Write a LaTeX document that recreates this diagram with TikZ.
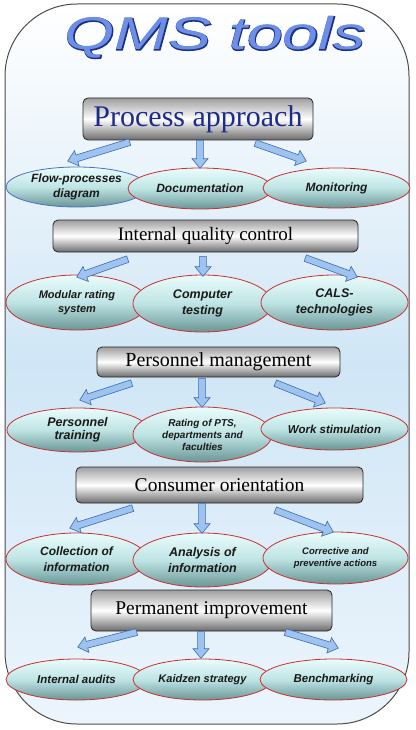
\documentclass[tikz,border=0pt]{standalone}
\usepackage{fontspec}
\setmainfont{Liberation Serif}
\newfontfamily\ellfont{Liberation Sans}
\newfontfamily\titlefont{Liberation Sans}
\newfontfamily\titlefontB[FakeBold=2.5]{Liberation Sans}
\usetikzlibrary{shapes.geometric,shapes.arrows,calc}
\definecolor{arrowfill}{HTML}{9DC3EE}
\definecolor{arrowline}{HTML}{3A6AB8}
\definecolor{elltop}{HTML}{EAFCFC}
\definecolor{ellmid}{HTML}{BFE4E4}
\definecolor{ellbot}{HTML}{6A9696}
\definecolor{ellred}{HTML}{C83030}
\definecolor{ellblue}{HTML}{4A70C8}
\definecolor{bgmid}{HTML}{D0E6F6}
\definecolor{bgbot}{HTML}{ECF5FC}
\definecolor{titlefill}{HTML}{6C8EE6}
\definecolor{titleline}{HTML}{1E2E80}
\definecolor{navy}{HTML}{1C2C8C}
\tikzset{
  qbox/.style={rectangle, rounded corners=5pt, draw=black!85, line width=0.8pt,
    top color=black!38, bottom color=black!58, middle color=white, inner sep=0pt},
  ell/.style={ellipse, draw=ellred, line width=0.8pt, top color=elltop,
    bottom color=ellbot, middle color=ellmid, inner sep=0pt, align=center,
    text=black!90, font=\ellfont\bfseries\itshape\fontsize{12}{14.5}\selectfont},
  barrow/.style={single arrow, draw=arrowline, fill=arrowfill, line width=0.6pt,
    inner sep=3pt, minimum width=16pt, single arrow head extend=4.5pt,
    single arrow tip angle=80},
}
\newcommand\blockarrow[2]{\path let \p1=(#1), \p2=(#2),
  \n1={atan2(\y2-\y1,\x2-\x1)}, \n2={veclen(\x2-\x1,\y2-\y1)} in
  node[barrow, minimum height=\n2, rotate=\n1, anchor=tail] at (\p1) {};}
\begin{document}
\begin{tikzpicture}[x=1pt,y=-1pt]
\useasboundingbox (0,0) rectangle (415,730);
% frame
\draw[draw=black!70, line width=1pt, rounded corners=72pt, top color=white,
  bottom color=bgbot, middle color=bgmid] (5,4) rectangle (409,724);
% title
\node[anchor=base, xscale=1.4, text=titleline, font=\titlefontB\itshape\fontsize{46}{50}\selectfont] (tB) at (215,50) {QMS tools};
\node[anchor=base, xscale=1.4, text=titlefill, font=\titlefont\itshape\fontsize{46}{50}\selectfont] (t) at (215,50) {QMS tools};
% boxes
\node[qbox, minimum width=230pt, minimum height=42pt, text=navy, font=\fontsize{30}{34}\selectfont] (b1) at (198,119) {Process approach};
\node[qbox, minimum width=305pt, minimum height=32pt, font=\fontsize{19}{22}\selectfont] (b2) at (205.5,236) {Internal quality control};
\node[qbox, minimum width=243pt, minimum height=30pt, font=\fontsize{20}{24}\selectfont] (b3) at (218.5,362) {Personnel management};
\node[qbox, minimum width=287pt, minimum height=36pt, font=\fontsize{19.5}{23}\selectfont] (b4) at (219.5,485) {Consumer orientation};
\node[qbox, minimum width=241pt, minimum height=41pt, font=\fontsize{19.5}{23}\selectfont] (b5) at (211.5,610.5) {Permanent improvement};
% ellipses row 1
\node[ell, draw=ellblue, minimum width=141pt, minimum height=40pt] (e11) at (76.5,187) {Flow-processes\\diagram};
\node[ell, minimum width=144pt, minimum height=41pt] (e12) at (200,188.5) {Documentation};
\node[ell, minimum width=147pt, minimum height=40pt] (e13) at (336.5,188) {Monitoring};
% row 2
\node[ell, minimum width=142pt, minimum height=55pt, font=\ellfont\bfseries\itshape\fontsize{11}{13.5}\selectfont] (e21) at (77,302.5) {Modular rating\\system};
\node[ell, minimum width=139pt, minimum height=57pt, font=\ellfont\bfseries\itshape\fontsize{12.5}{15.5}\selectfont] (e22) at (202.5,303.5) {Computer\\testing};
\node[ell, minimum width=147pt, minimum height=55pt, font=\ellfont\bfseries\itshape\fontsize{12.5}{15.5}\selectfont] (e23) at (334.5,302.5) {CALS-\\technologies};
% row 3
\node[ell, minimum width=141pt, minimum height=44pt, font=\ellfont\bfseries\itshape\fontsize{12.5}{13.5}\selectfont] (e31) at (77.5,430) {Personnel\\training};
\node[ell, minimum width=139pt, minimum height=55pt, font=\ellfont\bfseries\itshape\fontsize{10}{12}\selectfont] (e32) at (202.5,434.5) {Rating of PTS,\\departments and\\faculties};
\node[ell, minimum width=147pt, minimum height=42pt, font=\ellfont\bfseries\itshape\fontsize{11.5}{14}\selectfont] (e33) at (334.5,429) {Work stimulation};
% row 4
\node[ell, minimum width=141pt, minimum height=52pt, font=\ellfont\bfseries\itshape\fontsize{12}{16}\selectfont] (e41) at (76.5,559) {Collection of\\information};
\node[ell, minimum width=139pt, minimum height=54pt, font=\ellfont\bfseries\itshape\fontsize{12.5}{16}\selectfont] (e42) at (202.5,560) {Analysis of\\information};
\node[ell, minimum width=145pt, minimum height=52pt, font=\ellfont\bfseries\itshape\fontsize{9.5}{12}\selectfont] (e43) at (335.5,558) {Corrective and\\preventive actions};
% row 5
\node[ell, minimum width=141pt, minimum height=41pt, font=\ellfont\bfseries\itshape\fontsize{11.5}{14}\selectfont] (e51) at (76.5,679.5) {Internal audits};
\node[ell, minimum width=139pt, minimum height=41pt, font=\ellfont\bfseries\itshape\fontsize{11}{14}\selectfont] (e52) at (202.5,679.5) {Kaidzen strategy};
\node[ell, minimum width=147pt, minimum height=41pt, font=\ellfont\bfseries\itshape\fontsize{11.5}{14}\selectfont] (e53) at (333.5,679.5) {Benchmarking};
% arrow ends
\coordinate (a1t) at (130,142); \coordinate (a1h) at (68,161);
\coordinate (m1t) at (200,140); \coordinate (m1h) at (200,168);
\coordinate (r1t) at (255,143); \coordinate (r1h) at (306,161);
\coordinate (a2t) at (128,259); \coordinate (a2h) at (77,277);
\coordinate (m2t) at (203,256); \coordinate (m2h) at (203,276);
\coordinate (r2t) at (305,258); \coordinate (r2h) at (357,277);
\coordinate (a3t) at (132,383); \coordinate (a3h) at (80,400);
\coordinate (m3t) at (202,378); \coordinate (m3h) at (202,407);
\coordinate (r3t) at (275,383); \coordinate (r3h) at (325,403);
\coordinate (a4t) at (133,508); \coordinate (a4h) at (70,528);
\coordinate (m4t) at (202,503); \coordinate (m4h) at (202,533);
\coordinate (r4t) at (275,510); \coordinate (r4h) at (333,532);
\coordinate (a5t) at (137,632); \coordinate (a5h) at (78,647);
\coordinate (m5t) at (201,631); \coordinate (m5h) at (201,658);
\coordinate (r5t) at (285,632); \coordinate (r5h) at (338,648);
\blockarrow{a1t}{a1h}\blockarrow{m1t}{m1h}\blockarrow{r1t}{r1h}
\blockarrow{a2t}{a2h}\blockarrow{m2t}{m2h}\blockarrow{r2t}{r2h}
\blockarrow{a3t}{a3h}\blockarrow{m3t}{m3h}\blockarrow{r3t}{r3h}
\blockarrow{a4t}{a4h}\blockarrow{m4t}{m4h}\blockarrow{r4t}{r4h}
\blockarrow{a5t}{a5h}\blockarrow{m5t}{m5h}\blockarrow{r5t}{r5h}
\end{tikzpicture}
\end{document}
